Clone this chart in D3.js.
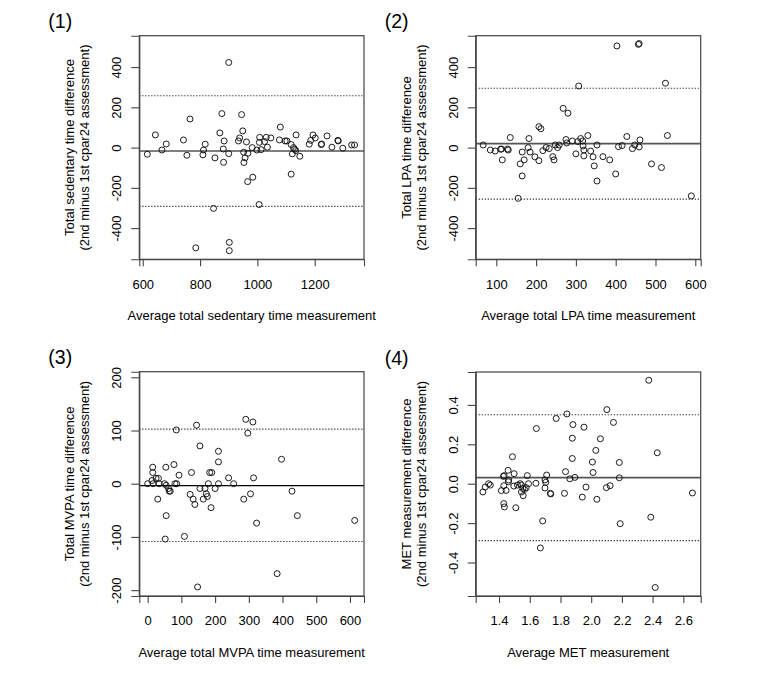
<!DOCTYPE html>
<html>
<head>
<meta charset="utf-8">
<script src="https://cdn.jsdelivr.net/npm/d3@7"></script>
<style>
  html, body { margin: 0; padding: 0; background: #fff; }
  svg { display: block; font-family: "Liberation Sans", Arial, sans-serif; }
</style>
</head>
<body>
<svg id="chart" width="760" height="680"></svg>
<script>
// ---------- Panel 1: sedentary ----------
const p1Avg = [616,644,667,682,742,754,765,810,812,818,847,852,869,876,881,882,884,900,900,785,902,902,934,938,945,949,952,953,957,962,967,966,984,982,998,1008,1007,1013,1006,1025,1031,1035,1047,1077,1080,1097,1103,1118,1122,1118,1126,1130,1135,1134,1148,1181,1186,1194,1202,1223,1224,1243,1260,1281,1282,1298,1329,1339];
const p1Diff = [-33,63,-12,18,38,-38,142,-36,-12,17,-302,-51,73,169,-7,-73,33,423,-30,-498,-471,-512,33,48,164,83,-23,-74,-51,28,-28,-169,-147,0,-12,51,26,-10,-283,30,51,2,48,38,102,33,33,15,-31,-132,0,-8,63,-15,-43,17,36,63,48,15,18,58,2,36,33,-3,13,13];
const p1Lines = [-17, 258, -292]; // mean, upper LoA, lower LoA

// ---------- Panel 2: LPA ----------
const p2Avg = [67,85,97,111,115,113,128,130,135,155,160,165,165,170,180,182,185,197,207,207,212,217,225,233,242,245,248,254,258,268,280,275,277,291,300,307,305,312,317,318,320,320,330,337,343,346,353,353,368,385,400,403,407,416,428,442,448,457,459,459,461,490,515,525,530,590];
const p2Diff = [13,-12,-17,-8,-61,-7,-7,-12,50,-252,-81,-141,-22,-61,0,45,-22,-46,104,-65,94,-15,0,-5,-45,-61,13,0,13,195,171,40,23,33,-31,306,30,45,33,8,-12,-41,60,-17,-46,-91,13,-166,-45,-61,-131,505,5,10,55,-5,13,513,517,3,38,-81,-99,320,60,-240];
const p2Lines = [19.5, 295, -256];

// ---------- Panel 3: MVPA ----------
const p3Avg = [0,13,15,15,16,25,32,30,34,50,54,55,55,52,62,64,67,78,81,86,85,93,109,126,130,135,140,145,148,155,155,165,170,174,177,180,184,190,188,200,210,210,210,240,255,285,291,297,305,312,314,323,384,397,428,444,614];
const p3Diff = [0,6,31,21,0,10,10,-29,0,0,31,-3,-60,-104,-9,-14,-14,36,0,0,101,16,-99,-20,21,-29,-39,110,-194,71,-9,-29,-9,-19,-24,0,21,21,-45,-9,61,41,0,11,0,-29,121,95,-19,116,11,-74,-169,46,-14,-60,-69];
const p3Lines = [-3.5, 102.5, -108.5];

// ---------- Panel 4: MET ----------
const p4Avg = [1.295,1.310,1.332,1.343,1.415,1.428,1.433,1.431,1.431,1.435,1.446,1.459,1.461,1.463,1.487,1.498,1.496,1.509,1.520,1.538,1.546,1.546,1.555,1.557,1.566,1.577,1.584,1.592,1.643,1.640,1.684,1.669,1.699,1.704,1.699,1.710,1.734,1.737,1.772,1.826,1.833,1.842,1.861,1.877,1.877,1.881,1.894,1.942,1.953,1.966,2.008,2.012,2.030,2.037,2.060,2.099,2.102,2.123,2.145,2.183,2.183,2.189,2.375,2.388,2.417,2.430,2.659];
const p4Diff = [-0.042,-0.017,0.000,-0.007,-0.035,0.037,0.041,-0.010,-0.101,-0.118,-0.034,0.068,0.010,0.019,0.137,0.051,-0.012,-0.122,-0.007,0.000,-0.007,-0.042,-0.024,-0.061,-0.029,-0.020,0.041,0.000,0.280,0.002,-0.189,-0.326,0.019,0.007,-0.022,0.044,-0.049,-0.052,0.331,-0.049,0.061,0.354,0.025,0.128,0.231,0.300,0.032,-0.068,0.287,-0.017,0.110,0.057,0.169,-0.079,0.228,-0.020,0.376,-0.010,0.311,0.108,0.030,-0.203,0.525,-0.170,-0.527,0.157,-0.047];
const p4Lines = [0.031, 0.350, -0.289];

// ---------- Ticks ----------
const p1XTicks = [600, 800, 1000, 1200];
const p1YTicks = [-400, -200, 0, 200, 400];
const p2XTicks = [100, 200, 300, 400, 500, 600];
const p2YTicks = [-400, -200, 0, 200, 400];
const p3XTicks = [0, 100, 200, 300, 400, 500, 600];
const p3YTicks = [-200, -100, 0, 100, 200];
const p4XTicks = [1.4, 1.6, 1.8, 2.0, 2.2, 2.4, 2.6];
const p4YTicks = [-0.4, -0.2, 0.0, 0.2, 0.4];

// ---------- Texts ----------
const panelLabels = ["(1)", "(2)", "(3)", "(4)"];
const yTitles1 = ["Total sedentary time difference", "Total LPA time difference", "Total MVPA time difference", "MET measurement difference"];
const yTitle2 = "(2nd minus 1st cpar24 assessment)";
const xTitles = ["Average total sedentary time measurement", "Average total LPA time measurement", "Average total MVPA time measurement", "Average MET measurement"];

const loc = d3.formatLocale({ decimal: ".", thousands: ",", grouping: [3], currency: ["", ""], minus: "-" });
const fInt = loc.format("d");
const fOne = loc.format(".1f");

const panels = [
  { xs: p1Avg, ys: p1Diff, lines: p1Lines, xt: p1XTicks, yt: p1YTicks, xd: [588, 1372], yd: [-555, 556], fx: fInt, fy: fInt, box: [139.3, 35.7, 364, 259.3], meanCol: "#000", meanW: 1.1 },
  { xs: p2Avg, ys: p2Diff, lines: p2Lines, xt: p2XTicks, yt: p2YTicks, xd: [48.2, 613.6], yd: [-555, 556], fx: fInt, fy: fInt, box: [475.7, 35.7, 700.7, 259.3], meanCol: "#555", meanW: 1.8 },
  { xs: p3Avg, ys: p3Diff, lines: p3Lines, xt: p3XTicks, yt: p3YTicks, xd: [-24.8, 641.6], yd: [-211, 210.5], fx: fInt, fy: fInt, box: [139.3, 371.7, 364, 596], meanCol: "#000", meanW: 1.1 },
  { xs: p4Avg, ys: p4Diff, lines: p4Lines, xt: p4XTicks, yt: p4YTicks, xd: [1.248, 2.713], yd: [-0.570, 0.567], fx: fOne, fy: fOne, box: [475.7, 372, 700.7, 596], meanCol: "#555", meanW: 1.8 }
];

const svg = d3.select("#chart");
const FS = 13;

panels.forEach((p, i) => {
  const [x0, y0, x1, y1] = p.box;
  const x = d3.scaleLinear().domain(p.xd).range([x0, x1]);
  const y = d3.scaleLinear().domain(p.yd).range([y1, y0]);
  const g = svg.append("g");

  const cid = "clip" + i;
  svg.append("clipPath").attr("id", cid).append("rect")
    .attr("x", x0).attr("y", y0).attr("width", x1 - x0).attr("height", y1 - y0);

  // reference lines
  const lg = g.append("g").attr("clip-path", `url(#${cid})`);
  lg.append("line")
    .attr("x1", x0).attr("x2", x1)
    .attr("y1", y(p.lines[0])).attr("y2", y(p.lines[0]))
    .attr("stroke", p.meanCol).attr("stroke-width", p.meanW);
  [p.lines[1], p.lines[2]].forEach(v => {
    lg.append("line")
      .attr("x1", x0).attr("x2", x1)
      .attr("y1", y(v)).attr("y2", y(v))
      .attr("stroke", "#111").attr("stroke-width", 1.1)
      .attr("stroke-dasharray", "1.1,1.9");
  });

  // points
  g.append("g").selectAll("circle")
    .data(p.xs.map((v, k) => [v, p.ys[k]]))
    .join("circle")
    .attr("cx", d => x(d[0])).attr("cy", d => y(d[1]))
    .attr("r", 3)
    .attr("fill", "none").attr("stroke", "#111").attr("stroke-width", 0.95);

  // box
  g.append("rect")
    .attr("x", x0).attr("y", y0).attr("width", x1 - x0).attr("height", y1 - y0)
    .attr("fill", "none").attr("stroke", "#444").attr("stroke-width", 1.2);

  // x axis
  const xa = g.append("g").attr("transform", `translate(0,${y1})`)
    .call(d3.axisBottom(x).tickValues(p.xt).tickFormat(p.fx).tickSize(7).tickPadding(0));
  xa.select(".domain").attr("stroke", "#444").attr("stroke-width", 1.1);
  xa.selectAll(".tick line").attr("stroke", "#444").attr("stroke-width", 1.1);
  xa.selectAll(".tick text").remove();
  xa.selectAll(".tick").append("text")
    .attr("y", 24.7).attr("dy", "0.36em")
    .attr("text-anchor", "middle")
    .attr("fill", "#000")
    .style("font-size", FS + "px")
    .style("font-family", '"Liberation Sans", Arial, sans-serif')
    .text(d => p.fx(d));

  // y axis
  const ya = g.append("g").attr("transform", `translate(${x0},0)`)
    .call(d3.axisLeft(y).tickValues(p.yt).tickFormat(p.fy).tickSize(8).tickPadding(0));
  ya.select(".domain").attr("stroke", "#444").attr("stroke-width", 1.1);
  ya.selectAll(".tick line").attr("stroke", "#444").attr("stroke-width", 1.1);
  ya.selectAll(".tick text").remove();
  ya.selectAll(".tick").append("text")
    .attr("transform", "translate(-22.5,0) rotate(-90)")
    .attr("dy", "0.36em")
    .attr("text-anchor", "middle")
    .attr("fill", "#000")
    .style("font-size", FS + "px")
    .style("font-family", '"Liberation Sans", Arial, sans-serif')
    .text(d => p.fy(d));

  const cy = (y0 + y1) / 2;
  const cx = (x0 + x1) / 2;

  // y titles
  g.append("text")
    .attr("transform", `translate(${x0 - 69.5},${cy}) rotate(-90)`)
    .attr("dy", "0.36em").attr("text-anchor", "middle")
    .style("font-size", FS + "px").attr("fill", "#000")
    .text(yTitles1[i]);
  g.append("text")
    .attr("transform", `translate(${x0 - 54.5},${cy}) rotate(-90)`)
    .attr("dy", "0.36em").attr("text-anchor", "middle")
    .style("font-size", FS + "px").attr("fill", "#000")
    .text(yTitle2);

  // x title
  g.append("text")
    .attr("x", cx).attr("y", y1 + 56).attr("dy", "0.36em")
    .attr("text-anchor", "middle")
    .style("font-size", FS + "px").attr("fill", "#000")
    .text(xTitles[i]);

  // panel label
  g.append("text")
    .attr("x", x0 - 91).attr("y", y0 - 14.3).attr("dy", "0.36em")
    .attr("text-anchor", "start")
    .style("font-size", "19.5px").attr("fill", "#000")
    .text(panelLabels[i]);
});
</script>
</body>
</html>
